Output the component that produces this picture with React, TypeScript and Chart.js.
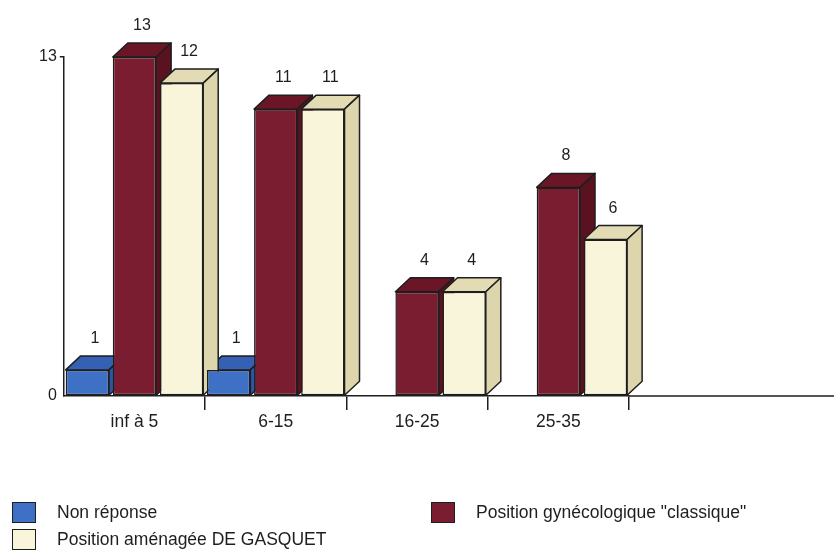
import { useEffect, useRef } from "react";
import { Chart, registerables } from "chart.js";

Chart.register(...registerables);

// Age groups and answer counts
const categories = ["inf à 5", "6-15", "16-25", "25-35"];
const nonReponse = [1, 1, 0, 0];
const classique = [13, 11, 4, 8];
const gasquet = [12, 11, 4, 6];
const yTicks = [0, 13];

const seriesNames = [
  "Non réponse",
  'Position gynécologique "classique"',
  "Position aménagée DE GASQUET",
];

// front / top / side face colours for each series
const faceColors = [
  { front: "#3e70c6", top: "#3561b5", side: "#2d55a3" },
  { front: "#7b1d30", top: "#6a1627", side: "#5a1120" },
  { front: "#f9f5db", top: "#e2dbb3", side: "#ddd6ac" },
];

const FONT = "'Liberation Sans', Arial, Helvetica, sans-serif";
const INK = "#1e1e1e";
const DX = 15;
const DY = -14;

const boxPlugin = {
  id: "box3d",
  beforeDatasetsDraw(chart: any) {
    const ctx = chart.ctx;
    ctx.save();
    ctx.lineWidth = 1.5;
    ctx.strokeStyle = INK;
    ctx.lineJoin = "round";
    chart.data.datasets.forEach((ds: any, di: number) => {
      const meta = chart.getDatasetMeta(di);
      meta.data.forEach((el: any, i: number) => {
        if (!ds.data[i]) return;
        const { x, y, base, width } = el.getProps(["x", "y", "base", "width"], true);
        const l = x - width / 2;
        const r = x + width / 2;
        // top face
        ctx.beginPath();
        ctx.moveTo(l, y);
        ctx.lineTo(l + DX, y + DY);
        ctx.lineTo(r + DX, y + DY);
        ctx.lineTo(r, y);
        ctx.closePath();
        ctx.fillStyle = faceColors[di].top;
        ctx.fill();
        ctx.stroke();
        // side face
        ctx.beginPath();
        ctx.moveTo(r, y);
        ctx.lineTo(r + DX, y + DY);
        ctx.lineTo(r + DX, base + DY);
        ctx.lineTo(r, base);
        ctx.closePath();
        ctx.fillStyle = faceColors[di].side;
        ctx.fill();
        ctx.stroke();
      });
    });
    ctx.restore();
  },
  afterDatasetsDraw(chart: any) {
    const ctx = chart.ctx;
    ctx.save();
    ctx.font = `16px ${FONT}`;
    ctx.fillStyle = INK;
    ctx.textAlign = "center";
    ctx.textBaseline = "alphabetic";
    chart.data.datasets.forEach((ds: any, di: number) => {
      const meta = chart.getDatasetMeta(di);
      meta.data.forEach((el: any, i: number) => {
        const v = ds.data[i];
        if (!v) return;
        const { x, y } = el.getProps(["x", "y"], true);
        ctx.fillText(String(v), x + DX / 2, y + DY - 13);
      });
    });
    ctx.restore();
  },
  afterDraw(chart: any) {
    // baseline carries on to the right edge
    const ctx = chart.ctx;
    const y0 = chart.scales.y.getPixelForValue(0);
    ctx.save();
    ctx.strokeStyle = INK;
    ctx.lineWidth = 1.5;
    ctx.beginPath();
    ctx.moveTo(chart.chartArea.right, y0);
    ctx.lineTo(chart.width, y0);
    ctx.stroke();
    ctx.restore();
  },
};

export default function App() {
  const ref = useRef<HTMLCanvasElement>(null);

  useEffect(() => {
    if (!ref.current) return;
    const series = [nonReponse, classique, gasquet];
    const chart = new Chart(ref.current, {
      type: "bar",
      data: {
        labels: categories,
        datasets: series.map((d, i) => ({
          label: seriesNames[i],
          data: d,
          backgroundColor: faceColors[i].front,
          borderColor: INK,
          borderWidth: 1.5,
          borderSkipped: false,
          categoryPercentage: 1,
          barPercentage: 0.92,
        })),
      },
      options: {
        responsive: false,
        animation: false,
        layout: { padding: { left: 36, top: 57, right: 205, bottom: 116 } },
        plugins: { legend: { display: false }, tooltip: { enabled: false } },
        scales: {
          x: {
            grid: {
              offset: true,
              drawOnChartArea: false,
              tickLength: 14,
              lineWidth: 1.5,
              color: (c: any) => (c.index === 0 ? "rgba(0,0,0,0)" : INK),
            },
            border: { display: true, color: INK, width: 1.5 },
            ticks: { font: { family: FONT, size: 17.5 }, color: INK, padding: 2 },
          },
          y: {
            min: 0,
            max: 13,
            afterBuildTicks: (s: any) => {
              s.ticks = yTicks.map((v) => ({ value: v }));
            },
            grid: {
              drawOnChartArea: false,
              tickLength: 4,
              lineWidth: 1.5,
              color: (c: any) => (c.tick && c.tick.value === 13 ? INK : "rgba(0,0,0,0)"),
            },
            border: { display: true, color: INK, width: 1.5 },
            ticks: { font: { family: FONT, size: 16 }, color: INK, padding: 3 },
          },
        },
      },
      plugins: [boxPlugin],
    });
    return () => chart.destroy();
  }, []);

  const legendItem = (i: number, left: number, top: number) => (
    <div
      key={i}
      style={{ position: "absolute", left, top, display: "flex", alignItems: "center", height: 22 }}
    >
      <div
        style={{
          width: 24,
          height: 21,
          boxSizing: "border-box",
          border: `1px solid ${INK}`,
          background: faceColors[i].front,
          marginRight: 21,
        }}
      />
      <span style={{ font: `17.5px ${FONT}`, color: INK, whiteSpace: "nowrap" }}>{seriesNames[i]}</span>
    </div>
  );

  return (
    <div style={{ position: "fixed", left: 0, top: 0, width: 834, height: 551, background: "#fff" }}>
      <canvas ref={ref} width={834} height={551} style={{ position: "absolute", left: 0, top: 0 }} />
      {legendItem(0, 12, 501)}
      {legendItem(1, 431, 501)}
      {legendItem(2, 12, 528)}
    </div>
  );
}
